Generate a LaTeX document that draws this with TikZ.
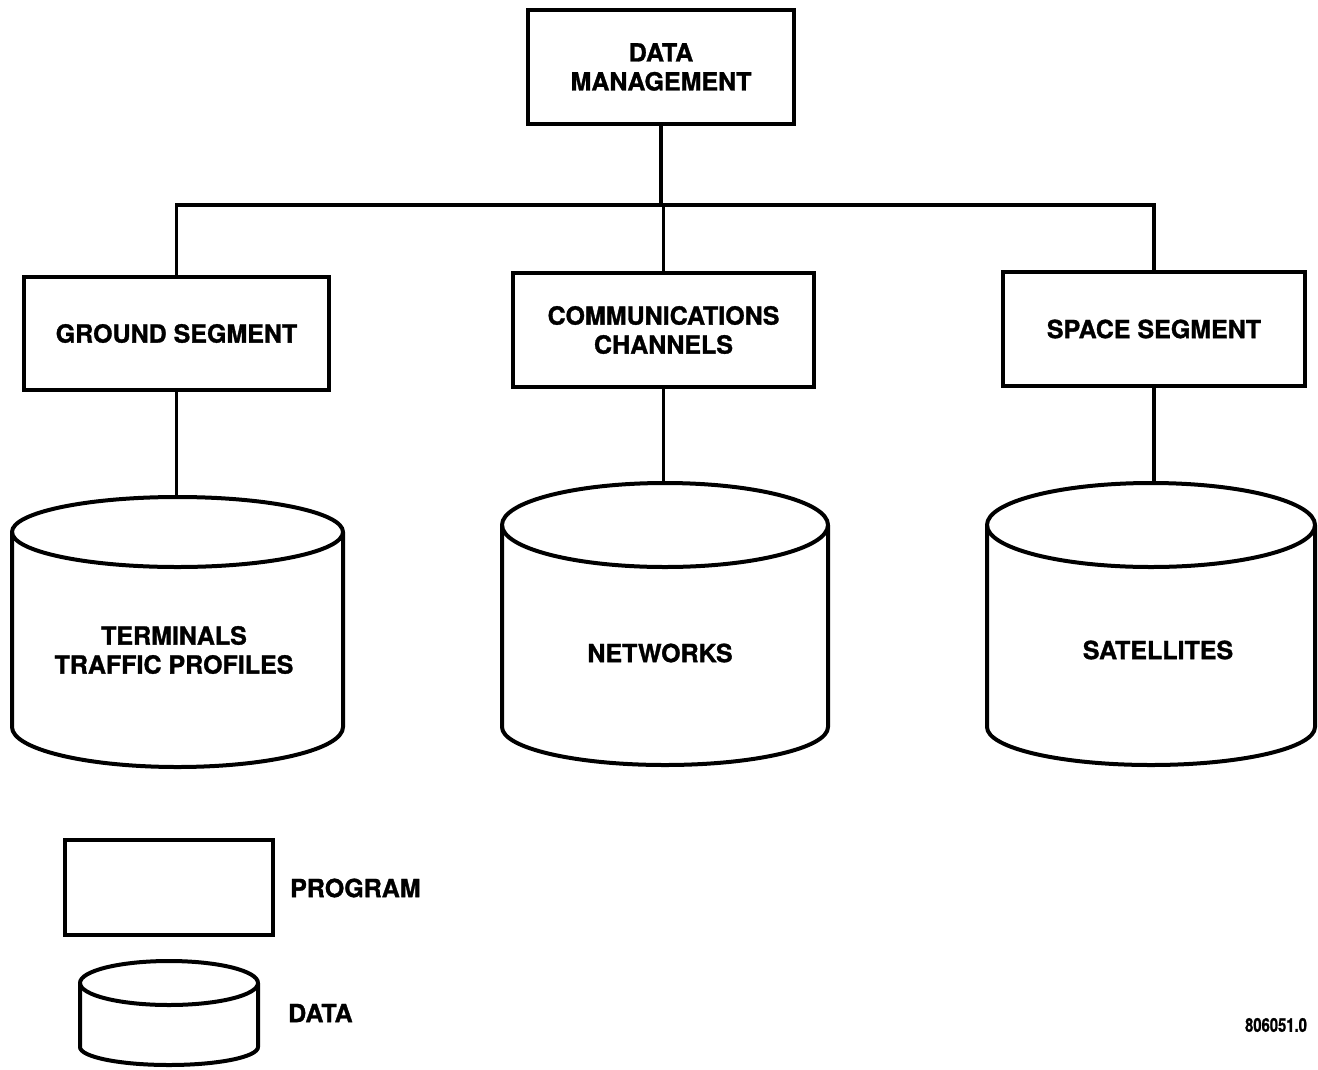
\documentclass[tikz,border=0pt]{standalone}
\usepackage{fontspec}
\setmainfont{TeX Gyre Heros}[BoldFeatures={FakeBold=1.2}]
\begin{document}
\begin{tikzpicture}[x=1pt,y=1pt,
  prog/.style={draw, line width=4pt, align=center, inner sep=0pt,
    font=\bfseries\fontsize{25}{29}\selectfont},
  conn/.style={line width=3.2pt},
  cylline/.style={line width=4pt, line join=round},
  lbl/.style={align=center, inner sep=0pt, font=\bfseries\fontsize{25}{29}\selectfont}]
\useasboundingbox (0,0) rectangle (1318,-1069);
\fill[white] (0,0) rectangle (1318,-1069);

% program boxes
\node[prog, minimum width=266pt, minimum height=114pt] (dm) at (661,-67) {DATA\\MANAGEMENT};
\node[prog, minimum width=305pt, minimum height=113pt] (gnd) at (176.5,-333.5) {GROUND SEGMENT};
\node[prog, minimum width=301pt, minimum height=114pt] (cc) at (663.5,-330) {COMMUNICATIONS\\CHANNELS};
\node[prog, minimum width=302pt, minimum height=114pt] (sp) at (1154,-329) {SPACE SEGMENT};

% tree connectors
\coordinate (hl) at (0,-205);
\draw[conn] (dm.south) -- (dm.south |- hl);
\draw[conn] (gnd.north) -- (gnd.north |- hl) -- (sp.north |- hl) -- (sp.north);
\draw[conn] (cc.north) -- (cc.north |- hl);

% data cylinders
\draw[cylline] (177.5,-532) ellipse [x radius=165.5pt, y radius=35pt];
\draw[cylline] (12,-532) -- (12,-727) arc[start angle=180, end angle=360, x radius=165.5pt, y radius=40pt] -- (343,-532);
\coordinate (gcyl) at (177.5,-497);

\draw[cylline] (665,-525) ellipse [x radius=163pt, y radius=42pt];
\draw[cylline] (502,-525) -- (502,-727) arc[start angle=180, end angle=360, x radius=163pt, y radius=38pt] -- (828,-525);
\coordinate (ccyl) at (665,-483);

\draw[cylline] (1151,-525) ellipse [x radius=164pt, y radius=42pt];
\draw[cylline] (987,-525) -- (987,-727) arc[start angle=180, end angle=360, x radius=164pt, y radius=38pt] -- (1315,-525);
\coordinate (scyl) at (1151,-483);

\node[lbl] (term) at (174,-650) {TERMINALS\\TRAFFIC PROFILES};
\node[lbl] (net) at (660,-653) {NETWORKS};
\node[lbl] (sat) at (1158,-650) {SATELLITES};

\draw[conn] (gnd.south) -- (gnd.south |- gcyl);
\draw[conn] (cc.south) -- (cc.south |- ccyl);
\draw[conn] (sp.south) -- (sp.south |- scyl);

% legend
\node[prog, minimum width=208pt, minimum height=95pt] (legbox) at (169,-887.5) {};
\node[lbl, anchor=west] (legprog) at (290,-888) {PROGRAM};
\draw[cylline] (169,-983) ellipse [x radius=89pt, y radius=22pt];
\draw[cylline] (80,-983) -- (80,-1047) arc[start angle=180, end angle=360, x radius=89pt, y radius=18pt] -- (258,-983);
\node[lbl, anchor=west] (legdata) at (288,-1013) {DATA};

\node[inner sep=0pt, font=\bfseries\fontsize{19}{22}\selectfont] (code) at (1276,-1025) {\scalebox{0.78}[1]{806051.0}};
\end{tikzpicture}
\end{document}
